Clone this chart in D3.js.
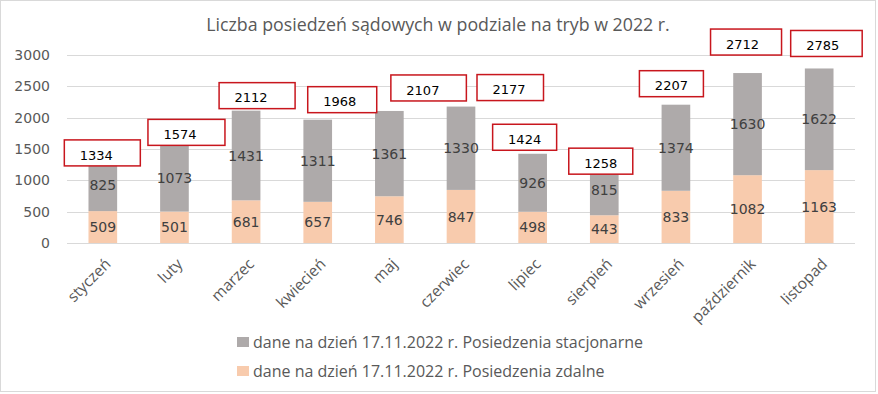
<!DOCTYPE html>
<html>
<head>
<meta charset="utf-8">
<script src="https://cdn.jsdelivr.net/npm/d3@7"></script>
<style>
  body { margin: 0; background: #fff; }
</style>
</head>
<body>
<div id="chart"></div>
<script>
var months = ["styczeń", "luty", "marzec", "kwiecień", "maj", "czerwiec", "lipiec", "sierpień", "wrzesień", "październik", "listopad"];
var zdalne = [509, 501, 681, 657, 746, 847, 498, 443, 833, 1082, 1163];
var stacjonarne = [825, 1073, 1431, 1311, 1361, 1330, 926, 815, 1374, 1630, 1622];
var yTicks = [0, 500, 1000, 1500, 2000, 2500, 3000];
var seriesNames = ["dane na dzień 17.11.2022 r. Posiedzenia stacjonarne", "dane na dzień 17.11.2022 r. Posiedzenia zdalne"];
var title = "Liczba posiedzeń sądowych w podziale na tryb w 2022 r.";

// where the total labels were dragged to in the original: [dx, dy, box right edge]
var labelShift = [[-6.5, -4.5, 44], [5.5, -10, 45], [5, -13, 44], [22, -18, 37], [33.5, -21, 43.5],
    [48, -17, 34.5], [-8, -14.5, 32], [-3.5, -1, 32], [-4.5, -19, 32], [-5, -29, 39], [3.5, -23, 39.5]];

var width = 878, height = 394;
var margin = {left: 67, right: 23, top: 55, bottom: 151};

var grey = "#aeaaaa", peach = "#f8cbad";

var svg = d3.select("#chart").append("svg")
    .attr("width", width)
    .attr("height", height);

svg.append("rect")
    .attr("x", 0.5).attr("y", 0.5)
    .attr("width", width - 3).attr("height", height - 3)
    .attr("fill", "#fff")
    .attr("stroke", "#d9d9d9");

var x = d3.scaleBand()
    .domain(months)
    .range([margin.left, width - margin.right])
    .paddingInner(0.6)
    .paddingOuter(0.3);

var y = d3.scaleLinear()
    .domain([0, 3000])
    .range([height - margin.bottom, margin.top]);

svg.append("text")
    .attr("x", 438)
    .attr("y", 31)
    .attr("text-anchor", "middle")
    .attr("font-family", "Open Sans, sans-serif")
    .attr("font-size", "17.8px")
    .attr("fill", "#595959")
    .text(title);

// grid
svg.append("g")
    .selectAll("line")
    .data(yTicks)
    .enter()
    .append("line")
    .attr("x1", margin.left)
    .attr("x2", width - margin.right)
    .attr("y1", function (d) { return Math.round(y(d)) + 0.5; })
    .attr("y2", function (d) { return Math.round(y(d)) + 0.5; })
    .attr("stroke", "#d9d9d9");

var yAxis = svg.append("g")
    .attr("transform", "translate(" + (margin.left - 17) + ",0)")
    .call(d3.axisLeft(y).tickValues(yTicks).tickFormat(d3.format("d")).tickSize(0).tickPadding(0));
yAxis.select(".domain").remove();
yAxis.selectAll("text")
    .attr("font-family", "DejaVu Sans, sans-serif")
    .attr("font-size", "14px")
    .attr("fill", "#595959");

var xAxis = svg.append("g")
    .attr("transform", "translate(0," + (height - margin.bottom) + ")")
    .call(d3.axisBottom(x).tickSize(0).tickPadding(0));
xAxis.select(".domain").remove();
xAxis.selectAll("text")
    .attr("font-family", "Open Sans, sans-serif")
    .attr("font-size", "15.5px")
    .attr("fill", "#595959")
    .attr("text-anchor", "end")
    .attr("dy", null)
    .attr("transform", "translate(9,22) rotate(-45)");

var rows = months.map(function (m, i) {
    return {month: m, zdalne: zdalne[i], stacjonarne: stacjonarne[i], total: zdalne[i] + stacjonarne[i], shift: labelShift[i]};
});

var stack = d3.stack().keys(["zdalne", "stacjonarne"])(rows);
var colors = {zdalne: peach, stacjonarne: grey};

var layers = svg.selectAll(".layer")
    .data(stack)
    .enter()
    .append("g")
    .attr("class", "layer")
    .attr("fill", function (d) { return colors[d.key]; });

layers.selectAll("rect")
    .data(function (d) { return d; })
    .enter()
    .append("rect")
    .attr("x", function (d) { return x(d.data.month); })
    .attr("y", function (d) { return y(d[1]); })
    .attr("width", x.bandwidth())
    .attr("height", function (d) { return y(d[0]) - y(d[1]); });

layers.selectAll("text")
    .data(function (d) { return d; })
    .enter()
    .append("text")
    .attr("x", function (d) { return x(d.data.month) + x.bandwidth() / 2; })
    .attr("y", function (d) { return (y(d[0]) + y(d[1])) / 2; })
    .attr("dy", "0.36em")
    .attr("text-anchor", "middle")
    .attr("font-family", "DejaVu Sans, sans-serif")
    .attr("font-size", "14px")
    .attr("fill", "#404040")
    .text(function (d) { return d[1] - d[0]; });

// totals in red boxes
var totals = svg.selectAll(".total")
    .data(rows)
    .enter()
    .append("g")
    .attr("class", "total")
    .attr("transform", function (d) {
        var cx = x(d.month) + x.bandwidth() / 2 + d.shift[0];
        var cy = y(d.total) + d.shift[1];
        return "translate(" + cx + "," + cy + ")";
    });

totals.append("rect")
    .attr("x", -32)
    .attr("y", -15)
    .attr("width", function (d) { return 32 + d.shift[2]; })
    .attr("height", 26)
    .attr("fill", "#fff")
    .attr("stroke", "#c8161d")
    .attr("stroke-width", 1.5);

totals.append("text")
    .attr("text-anchor", "middle")
    .attr("dy", "0.36em")
    .attr("font-family", "DejaVu Sans, sans-serif")
    .attr("font-size", "13px")
    .attr("fill", "#000")
    .text(function (d) { return d.total; });

// legend
var legend = svg.selectAll(".legend")
    .data(seriesNames)
    .enter()
    .append("g")
    .attr("class", "legend")
    .attr("transform", function (d, i) { return "translate(237," + (342 + i * 29) + ")"; });

legend.append("rect")
    .attr("x", 0)
    .attr("y", -5)
    .attr("width", 12)
    .attr("height", 10)
    .attr("fill", function (d, i) { return i === 0 ? grey : peach; });

legend.append("text")
    .attr("x", 16)
    .attr("dy", "0.35em")
    .attr("font-family", "Open Sans, sans-serif")
    .attr("font-size", "16px")
    .attr("fill", "#595959")
    .text(function (d) { return d; });
</script>
</body>
</html>
